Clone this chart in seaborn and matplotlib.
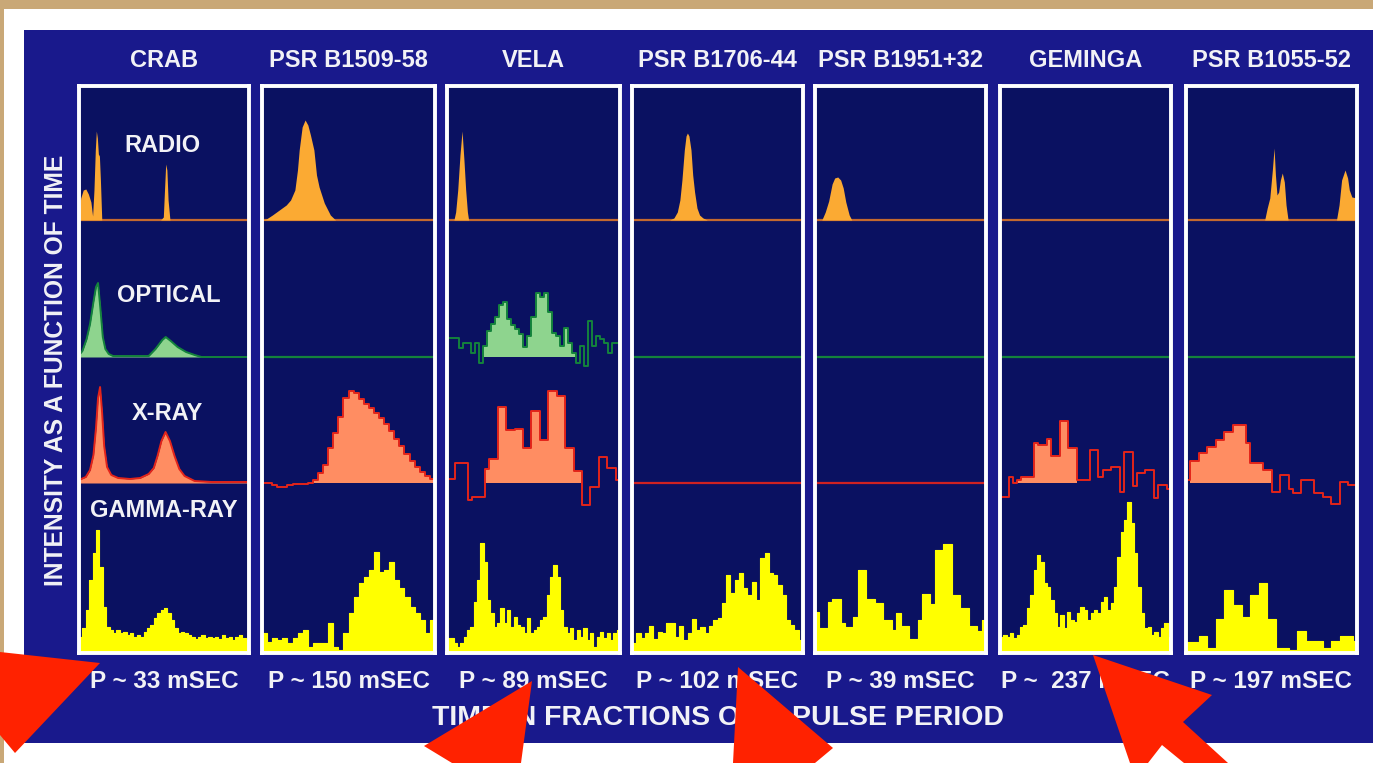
import numpy as np
import pandas as pd
import matplotlib
matplotlib.use("Agg")
import matplotlib.pyplot as plt
from matplotlib.patches import Rectangle, Polygon
import seaborn as sns

sns.set_theme(style="white")
plt.rcParams["font.family"] = ["Liberation Sans", "DejaVu Sans"]

# ------------------------------------------------------------------
# Pulsars, bands and labels
# ------------------------------------------------------------------
pulsar_names = ["CRAB", "PSR B1509-58", "VELA", "PSR B1706-44",
                "PSR B1951+32", "GEMINGA", "PSR B1055-52"]
period_labels = ["P ~ 33 mSEC", "P ~ 150 mSEC", "P ~ 89 mSEC", "P ~ 102 mSEC",
                 "P ~ 39 mSEC", "P ~  237 mSEC", "P ~ 197 mSEC"]
band_names = ["RADIO", "OPTICAL", "X-RAY", "GAMMA-RAY"]
y_title = "INTENSITY AS A FUNCTION OF TIME"
x_title = "TIME IN FRACTIONS OF A PULSE PERIOD"

# ------------------------------------------------------------------
# Radio light curves (pulse phase, intensity)
# ------------------------------------------------------------------
crab_radio_phase = [0.0, 0.01, 0.025, 0.04, 0.055, 0.07, 0.08, 0.088, 0.096, 0.102,
                    0.108, 0.114, 0.12, 0.126, 0.134, 0.48, 0.496, 0.503, 0.51, 0.517,
                    0.524, 0.535, 1.0]
crab_radio_flux = [5, 22, 30, 31, 26, 18, 4, 30, 70, 89,
                   82, 66, 64, 40, 0, 0, 3, 30, 56, 50,
                   20, 0, 0]

psr1509_radio_phase = [0.0, 0.025, 0.06, 0.1, 0.14, 0.165, 0.19, 0.205, 0.215, 0.232,
                       0.249, 0.265, 0.28, 0.3, 0.315, 0.33, 0.36, 0.395, 0.425, 1.0]
psr1509_radio_flux = [0, 1, 5, 10, 15, 20, 30, 50, 70, 93,
                      100, 95, 85, 70, 45, 33, 17, 5, 0, 0]

vela_radio_phase = [0.0, 0.04, 0.05, 0.062, 0.075, 0.087, 0.098, 0.108, 0.118, 0.125, 1.0]
vela_radio_flux = [0, 0, 8, 30, 65, 89, 60, 30, 8, 0, 0]

psr1706_radio_phase = [0.0, 0.22, 0.245, 0.265, 0.28, 0.292, 0.306, 0.316, 0.324, 0.333,
                       0.345, 0.355, 0.366, 0.38, 0.395, 0.415, 0.44, 1.0]
psr1706_radio_flux = [0, 0, 2, 8, 20, 40, 70, 84, 87, 84,
                      70, 45, 28, 12, 5, 2, 0, 0]

psr1951_radio_phase = [0.0, 0.04, 0.06, 0.08, 0.1, 0.115, 0.133, 0.15, 0.165, 0.18,
                       0.2, 0.215, 1.0]
psr1951_radio_flux = [0, 0, 8, 19, 36, 42, 43, 40, 32, 18, 5, 0, 0]

psr1055_radio_phase = [0.0, 0.46, 0.475, 0.49, 0.505, 0.515, 0.523, 0.532, 0.542, 0.552,
                       0.563, 0.575, 0.585, 0.597, 0.61, 0.88, 0.895, 0.91, 0.93, 0.945,
                       0.955, 0.97, 1.0]
psr1055_radio_flux = [0, 0, 12, 22, 50, 72, 45, 25, 28, 40,
                      47, 38, 15, 0, 0, 0, 15, 40, 50, 42,
                      30, 23, 22]

# ------------------------------------------------------------------
# Optical light curves
# ------------------------------------------------------------------
crab_optical_phase = [0.0, 0.02, 0.045, 0.065, 0.085, 0.1, 0.112, 0.125, 0.14, 0.155,
                      0.175, 0.2, 0.3, 0.41, 0.45, 0.49, 0.51, 0.54, 0.58, 0.63,
                      0.68, 0.72, 1.0]
crab_optical_flux = [2, 6, 18, 33, 55, 70, 74, 50, 20, 8,
                     3, 1, 1, 1, 8, 17, 20, 16, 10, 5,
                     2, 0, 0]

# binned counts, with the first/last bin of the pulsed (shaded) window
vela_optical_counts = [19, 19, 19, 9, 14, 14, 4, 14, -6, 11,
                       26, 33, 40, 52, 55, 38, 32, 28, 23, 10,
                       21, 40, 64, 60, 64, 45, 24, 21, 11, 29,
                       14, 4, -6, 11, -9, 36, 11, 21, 18, 14,
                       4, 14, 14]
vela_optical_window = (9, 31)

# ------------------------------------------------------------------
# X-ray light curves
# ------------------------------------------------------------------
crab_xray_phase = [0.0, 0.04, 0.065, 0.085, 0.1, 0.112, 0.124, 0.136, 0.148, 0.165,
                   0.19, 0.23, 0.3, 0.36, 0.41, 0.44, 0.462, 0.485, 0.509, 0.535,
                   0.562, 0.59, 0.621, 0.68, 0.78, 1.0]
crab_xray_flux = [3, 6, 13, 28, 55, 85, 96, 70, 37, 16,
                  8, 5, 4, 5, 9, 15, 27, 42, 51, 42,
                  27, 14, 7, 2, 1, 1]

psr1509_xray_counts = [0, 0, -2, -4, -4, -2, -1, -1, -1, 0,
                       3, 10, 18, 35, 50, 66, 85, 92, 90, 84,
                       79, 75, 70, 65, 59, 52, 44, 37, 29, 22,
                       16, 11, 7, 4]
psr1509_xray_window = (9, 33)

vela_xray_counts = [4, 4, 20, 20, 20, -17, -14, -14, -14, 14,
                    24, 24, 76, 76, 53, 53, 54, 54, 35, 35,
                    72, 72, 43, 43, 92, 92, 87, 87, 35, 35,
                    12, 12, -22, -22, -4, -4, 26, 26, 15, 15,
                    3]
vela_xray_window = (9, 31)

geminga_xray_counts = [-14, -14, 6, 0, 3, 6, 6, 6, 40, 38,
                       38, 44, 27, 27, 62, 62, 35, 35, 3, 3,
                       3, 33, 33, 6, 13, 13, 16, 16, -9, 31,
                       31, -3, 10, 10, 13, 13, -15, -2, -2, -6]
geminga_xray_window = (4, 17)

psr1055_xray_counts = [3, 22, 22, 30, 30, 36, 36, 43, 43, 51,
                       51, 58, 58, 58, 40, 20, 20, 20, 13, 13,
                       -9, -9, 8, 8, -6, -10, -10, 3, 3, 3,
                       -10, -10, -14, -14, -21, -21, 1, 1, -2, -2]
psr1055_xray_window = (1, 19)

# ------------------------------------------------------------------
# Gamma-ray light curves (binned counts)
# ------------------------------------------------------------------
crab_gamma_counts = [16, 25, 43, 73, 100, 123, 86, 46, 26, 23,
                     20, 23, 20, 21, 18, 20, 16, 18, 16, 21,
                     25, 28, 35, 40, 43, 45, 40, 33, 25, 20,
                     21, 20, 18, 16, 14, 16, 18, 15, 16, 15,
                     16, 14, 18, 15, 16, 13, 16, 18, 15, 13]

psr1509_gamma_counts = [20, 11, 15, 13, 15, 10, 15, 20, 23, 6,
                        10, 10, 10, 30, 6, 3, 20, 40, 56, 70,
                        76, 83, 101, 81, 83, 91, 73, 65, 56, 46,
                        40, 33, 20, 33]

vela_gamma_counts = [15, 15, 10, 6, 10, 16, 23, 26, 51, 73,
                     110, 91, 53, 40, 26, 30, 45, 30, 43, 26,
                     36, 28, 26, 20, 35, 20, 23, 26, 33, 36,
                     58, 76, 88, 76, 43, 26, 20, 25, 13, 23,
                     16, 25, 13, 20, 6, 16, 21, 15, 20, 13,
                     20, 23]

psr1706_gamma_counts = [10, 20, 15, 20, 27, 14, 21, 20, 30, 30,
                        16, 27, 13, 20, 34, 23, 26, 20, 27, 33,
                        35, 50, 78, 60, 73, 80, 65, 58, 71, 53,
                        95, 100, 80, 78, 68, 58, 33, 28, 23, 13]

psr1951_gamma_counts = [41, 25, 25, 51, 54, 54, 30, 26, 26, 36,
                        83, 83, 54, 54, 50, 50, 33, 33, 23, 40,
                        27, 27, 14, 14, 33, 59, 59, 49, 103, 103,
                        109, 109, 58, 58, 45, 45, 27, 27, 22, 33]

geminga_gamma_counts = [16, 18, 16, 20, 15, 18, 26, 28, 45, 58,
                        83, 98, 91, 70, 66, 53, 40, 26, 38, 25,
                        41, 33, 31, 40, 46, 43, 33, 40, 43, 40,
                        51, 56, 43, 50, 66, 96, 121, 133, 151, 130,
                        100, 66, 40, 25, 26, 18, 21, 16, 25, 30,
                        16]

psr1055_gamma_counts = [11, 11, 11, 17, 17, 5, 5, 34, 34, 63,
                        63, 48, 48, 36, 36, 58, 58, 70, 70, 34,
                        34, 5, 5, 5, 3, 3, 22, 22, 12, 12,
                        12, 12, 5, 5, 12, 12, 17, 17, 17, 12]

# ------------------------------------------------------------------
# Which profile goes into which cell (None = flat baseline)
# ------------------------------------------------------------------
profiles = {
    "CRAB": {"RADIO": ("curve", crab_radio_phase, crab_radio_flux),
             "OPTICAL": ("curve", crab_optical_phase, crab_optical_flux),
             "X-RAY": ("curve", crab_xray_phase, crab_xray_flux),
             "GAMMA-RAY": ("hist", crab_gamma_counts, None)},
    "PSR B1509-58": {"RADIO": ("curve", psr1509_radio_phase, psr1509_radio_flux),
                     "OPTICAL": None,
                     "X-RAY": ("hist", psr1509_xray_counts, psr1509_xray_window),
                     "GAMMA-RAY": ("hist", psr1509_gamma_counts, None)},
    "VELA": {"RADIO": ("curve", vela_radio_phase, vela_radio_flux),
             "OPTICAL": ("hist", vela_optical_counts, vela_optical_window),
             "X-RAY": ("hist", vela_xray_counts, vela_xray_window),
             "GAMMA-RAY": ("hist", vela_gamma_counts, None)},
    "PSR B1706-44": {"RADIO": ("curve", psr1706_radio_phase, psr1706_radio_flux),
                     "OPTICAL": None, "X-RAY": None,
                     "GAMMA-RAY": ("hist", psr1706_gamma_counts, None)},
    "PSR B1951+32": {"RADIO": ("curve", psr1951_radio_phase, psr1951_radio_flux),
                     "OPTICAL": None, "X-RAY": None,
                     "GAMMA-RAY": ("hist", psr1951_gamma_counts, None)},
    "GEMINGA": {"RADIO": None, "OPTICAL": None,
                "X-RAY": ("hist", geminga_xray_counts, geminga_xray_window),
                "GAMMA-RAY": ("hist", geminga_gamma_counts, None)},
    "PSR B1055-52": {"RADIO": ("curve", psr1055_radio_phase, psr1055_radio_flux),
                     "OPTICAL": None,
                     "X-RAY": ("hist", psr1055_xray_counts, psr1055_xray_window),
                     "GAMMA-RAY": ("hist", psr1055_gamma_counts, None)},
}

# ------------------------------------------------------------------
# Layout (pixels) and colours
# ------------------------------------------------------------------
W, H, DPI = 1373, 763, 100
panel_left = [79, 262, 447, 632, 815, 1000, 1186]
panel_width = [170, 173, 173, 171, 171, 171, 171]
BOX_TOP, BOX_BOTTOM = 86, 653
BOX_H = BOX_BOTTOM - BOX_TOP

TAN = "#c9a877"
FRAME_BLUE = "#19198c"
NAVY = "#0a1161"
TEXT_C = "#f2f2f6"
ARROW_C = "#ff2200"

band_style = {
    "RADIO": dict(base=433, fill="#fbaa33", edge="#f29a2c", line="#c4692f", lw=1.0),
    "OPTICAL": dict(base=296, fill="#8ed48e", edge="#14833c", line="#14833c", lw=1.4),
    "X-RAY": dict(base=170, fill="#ff8d62", edge="#e3241a", line="#cf2222", lw=1.4),
    "GAMMA-RAY": dict(base=0, fill="#ffff00", edge="#ffff00", line=None, lw=0.8),
}


def draw_curve(ax, phase, flux, st, outline):
    df = pd.DataFrame({"phase": phase,
                       "level": st["base"] + np.asarray(flux, float)})
    ax.fill_between(df["phase"], st["base"], df["level"],
                    color=st["fill"], lw=0, zorder=3)
    if outline:
        sns.lineplot(data=df, x="phase", y="level", ax=ax, color=st["edge"],
                     lw=st["lw"], estimator=None, sort=False, zorder=4)


def draw_hist(ax, counts, window, st):
    counts = np.asarray(counts, float)
    n = len(counts)
    edges = np.linspace(0.0, 1.0, n + 1)
    shaded = np.zeros(n)
    lo, hi = window if window is not None else (0, n - 1)
    shaded[lo:hi + 1] = np.clip(counts[lo:hi + 1], 0, None)
    ax.fill_between(edges, st["base"], st["base"] + np.append(shaded, shaded[-1]),
                    step="post", color=st["fill"], lw=0, zorder=3)
    df = pd.DataFrame({"phase": edges,
                       "level": st["base"] + np.append(counts, counts[-1])})
    sns.lineplot(data=df, x="phase", y="level", ax=ax, color=st["edge"],
                 lw=st["lw"], drawstyle="steps-post", estimator=None,
                 sort=False, zorder=4)


fig = plt.figure(figsize=(W / DPI, H / DPI), dpi=DPI, facecolor="white")

# page background, tan border and blue frame
ax_bg = fig.add_axes([0, 0, 1, 1], zorder=0)
ax_bg.set_xlim(0, W)
ax_bg.set_ylim(H, 0)
ax_bg.axis("off")
ax_bg.add_patch(Rectangle((0, 0), W, 9, color=TAN, lw=0))
ax_bg.add_patch(Rectangle((0, 0), 4, H, color=TAN, lw=0))
ax_bg.add_patch(Rectangle((24, 30), W - 24, 743 - 30, color=FRAME_BLUE, lw=0))

# one framed panel per pulsar
for i, name in enumerate(pulsar_names):
    left, width = panel_left[i], panel_width[i]
    ax = fig.add_axes([left / W, (H - BOX_BOTTOM) / H, width / W, BOX_H / H], zorder=2)
    ax.set_facecolor(NAVY)
    for band in band_names:
        st = band_style[band]
        spec = profiles[name][band]
        if spec is None:
            ax.axhline(st["base"], color=st["line"], lw=1.6, zorder=2)
        elif spec[0] == "curve":
            if band == "RADIO":
                ax.axhline(st["base"], color=st["line"], lw=1.6, zorder=2)
            draw_curve(ax, spec[1], spec[2], st, outline=(band != "RADIO"))
        else:
            draw_hist(ax, spec[1], spec[2], st)
    ax.set_xlim(0, 1)
    ax.set_ylim(0, BOX_H)
    ax.set_xticks([])
    ax.set_yticks([])
    ax.set_xlabel("")
    ax.set_ylabel("")
    for sp in ax.spines.values():
        sp.set_visible(True)
        sp.set_color("white")
        sp.set_linewidth(2.8)
        sp.set_zorder(6)

# text and pointer overlay
ax_top = fig.add_axes([0, 0, 1, 1], zorder=10)
ax_top.set_xlim(0, W)
ax_top.set_ylim(H, 0)
ax_top.axis("off")
ax_top.patch.set_alpha(0)

font = dict(color=TEXT_C, fontweight="bold")
for i, name in enumerate(pulsar_names):
    cx = panel_left[i] + panel_width[i] / 2
    ax_top.text(cx, 67, name, ha="center", va="baseline", fontsize=17, **font)
    ax_top.text(cx, 688, period_labels[i], ha="center", va="baseline", fontsize=17.5, **font)

band_label_pos = [(162, 152), (169, 302), (167, 420), (164, 517)]
for band, (bx, by) in zip(band_names, band_label_pos):
    ax_top.text(bx, by, band, ha="center", va="baseline", fontsize=17, **font)

ax_top.text(63, 370, y_title, rotation=90, rotation_mode="anchor",
            ha="center", va="baseline", fontsize=17.7, **font)
ax_top.text(718, 725, x_title, ha="center", va="baseline", fontsize=20.5, **font)

pointer_shapes = [
    [(0, 652), (100, 663), (15, 753), (0, 735)],
    [(424, 746), (532, 681), (521, 763), (452, 763)],
    [(738, 667), (833, 748), (815, 763), (733, 763)],
    [(1093, 655), (1212, 695), (1183, 722), (1228, 763), (1184, 763),
     (1162, 745), (1148, 763), (1130, 763)],
]
for pts in pointer_shapes:
    ax_top.add_patch(Polygon(pts, closed=True, color=ARROW_C, lw=0, zorder=8))

fig.savefig("out.png", dpi=DPI, facecolor="white")
